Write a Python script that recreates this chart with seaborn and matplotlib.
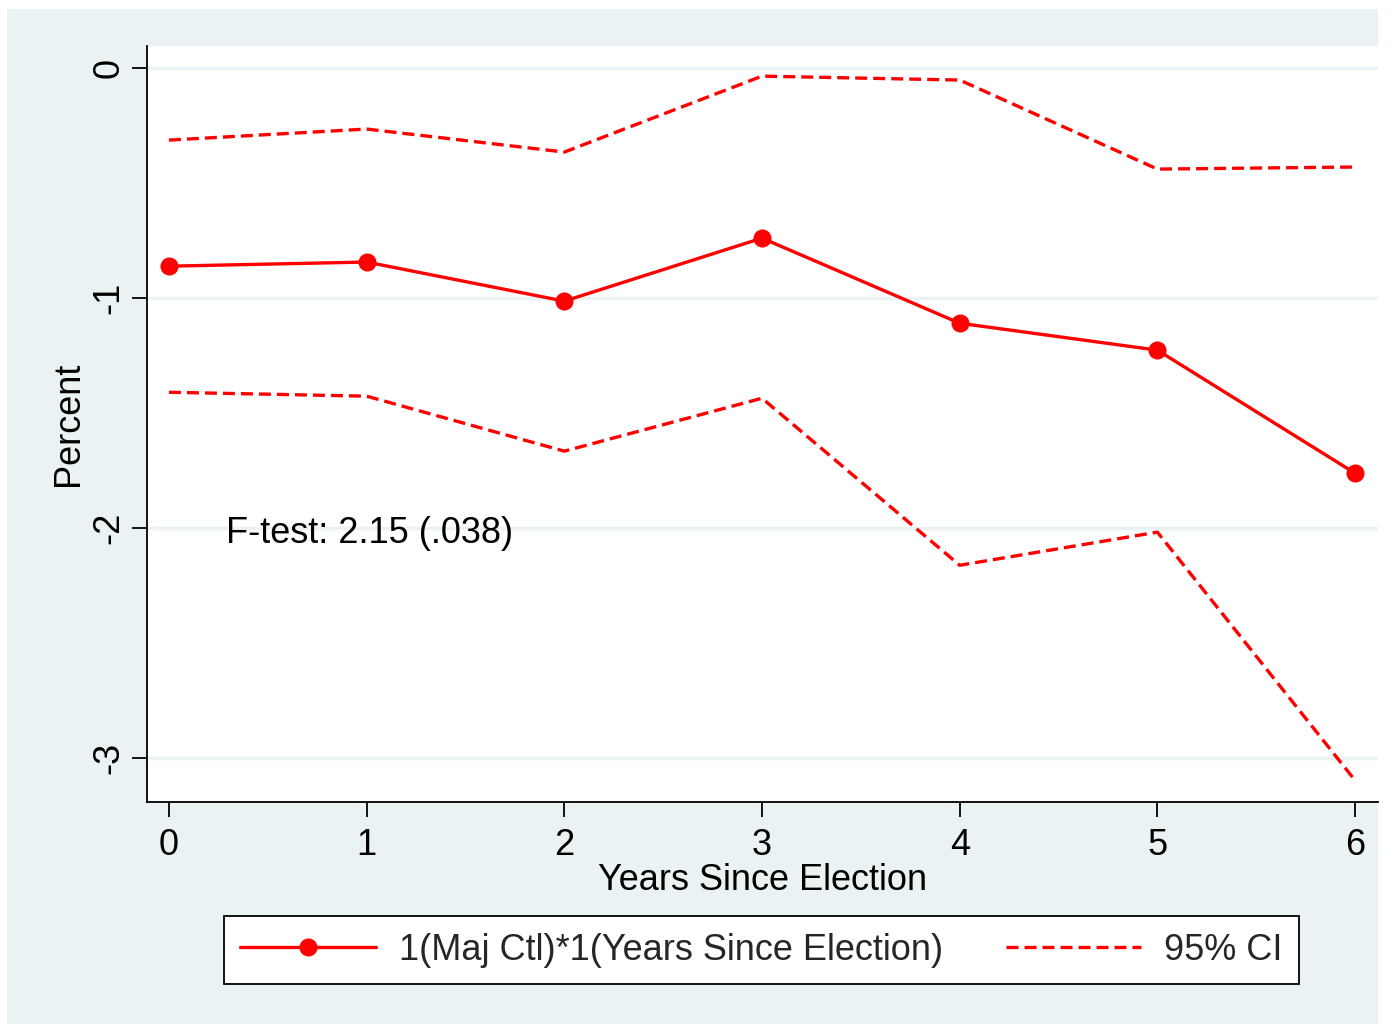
import matplotlib
matplotlib.use("Agg")
import matplotlib.pyplot as plt
import seaborn as sns
import pandas as pd
from matplotlib.patches import Rectangle
from matplotlib.lines import Line2D

years = [0, 1, 2, 3, 4, 5, 6]
estimate = [-0.861, -0.843, -1.013, -0.739, -1.109, -1.226, -1.761]
upper_ci = [-0.313, -0.265, -0.365, -0.035, -0.052, -0.439, -0.430]
lower_ci = [-1.409, -1.426, -1.665, -1.435, -2.161, -2.017, -3.096]
y_ticks = [0, -1, -2, -3]
x_ticks = [0, 1, 2, 3, 4, 5, 6]
est_label = "1(Maj Ctl)*1(Years Since Election)"
ci_label = "95% CI"
annotation = "F-test: 2.15 (.038)"

sns.set_theme(style="white")
plt.rcParams['font.family'] = ['Liberation Sans', 'DejaVu Sans']

FS = 26
W, H = 1394, 1024
fig = plt.figure(figsize=(W / 100, H / 100), dpi=100, facecolor="white")
bg = "#EAF2F3"
fig.patches.append(Rectangle((7 / W, 0), (1378 - 7) / W, 1 - 9 / H,
                             transform=fig.transFigure, facecolor=bg,
                             edgecolor="none", zorder=-10))

ax = fig.add_axes([147 / W, 1 - 802 / H, (1378 - 147) / W, (802 - 46) / H])
ax.set_facecolor("white")

df = pd.DataFrame({"year": years, "est": estimate, "up": upper_ci, "lo": lower_ci})
red = "#FF0000"
lw = 2.4
dash = (3.6, 1.8)

sns.lineplot(data=df, x="year", y="up", ax=ax, color=red, lw=lw,
             linestyle=(0, dash), zorder=3)
sns.lineplot(data=df, x="year", y="lo", ax=ax, color=red, lw=lw,
             linestyle=(0, dash), zorder=3)
sns.lineplot(data=df, x="year", y="est", ax=ax, color=red, lw=lw, marker="o",
             markersize=13, markeredgewidth=0, zorder=4)

ax.set_xlim(-0.111, 6.116)
ax.set_ylim(-3.19, 0.096)
ax.set_xticks(x_ticks)
ax.set_yticks(y_ticks)
ax.set_xticklabels([str(t) for t in x_ticks], fontsize=FS)
ax.set_yticklabels([str(t) for t in y_ticks], fontsize=FS, rotation=90, va="center")
ax.grid(axis="y", color=bg, lw=2.5, zorder=0)
ax.grid(axis="x", visible=False)
ax.tick_params(axis="both", direction="out", length=11, width=1.3, color="black",
               labelcolor="black", bottom=True, left=True)
ax.tick_params(axis="x", pad=8)
ax.tick_params(axis="y", pad=4)

for s in ["top", "right"]:
    ax.spines[s].set_visible(False)
for s in ["left", "bottom"]:
    ax.spines[s].set_color("black")
    ax.spines[s].set_linewidth(1.3)

ax.set_xlabel("Years Since Election", fontsize=FS, color="black", labelpad=0)
ax.set_ylabel("Percent", fontsize=FS, color="black", labelpad=4)

ax.text(0.29, -2.025, annotation, fontsize=FS, ha="left", va="center", color="black")

handles = [Line2D([], [], color=red, lw=lw, marker="o", markersize=13, markeredgewidth=0),
           Line2D([], [], color=red, lw=lw, linestyle=(0, dash))]
leg = fig.legend(handles, [est_label, ci_label], loc="center",
                 bbox_to_anchor=((228 + 1295) / 2 / W, 1 - 950 / H), ncol=2,
                 fontsize=FS, frameon=True, fancybox=False, handlelength=3.75,
                 handletextpad=0.64, columnspacing=1.75, borderpad=0.45,
                 borderaxespad=0, edgecolor="black", facecolor="white", framealpha=1)
leg.get_frame().set_linewidth(1.3)

fig.savefig("out.png", dpi=100, facecolor="white")
